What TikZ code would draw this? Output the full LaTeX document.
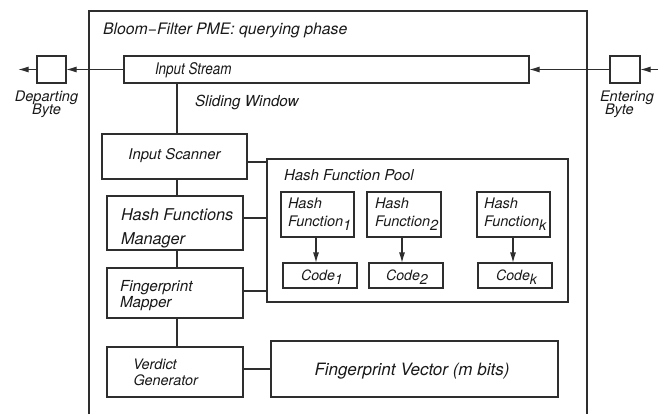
\documentclass[tikz,border=0pt]{standalone}
\usepackage{fontspec}
\setmainfont{TeX Gyre Heros}
\usetikzlibrary{arrows.meta,fit}
\newcommand\fsz[1]{\fontsize{#1}{#1}\selectfont\itshape}
\newcommand\lsub[1]{\raisebox{-3.2pt}{#1}}
\begin{document}
\begin{tikzpicture}[x=0.75pt,y=-0.75pt,
  ln/.style={draw=black!82, line width=1pt},
  box/.style={ln, inner sep=0pt, outer sep=0pt, rectangle},
  arr/.style={ln, -{Latex[length=8pt,width=4.6pt]}},
  txt/.style={inner sep=0pt, outer sep=0pt, anchor=base west, text=black!90},
  ctxt/.style={txt, anchor=base},
]
\useasboundingbox (0,0) rectangle (667,414);
% outer frame (open at the bottom)
\coordinate (fbl) at (89,414);
\coordinate (ftl) at (89,11);
\coordinate (ftr) at (587,11);
\coordinate (fbr) at (587,414);
\draw[ln] (fbl) -- (ftl) -- (ftr) -- (fbr);
\node[txt, font=\fsz{11.85pt}] (title) at (103,34) {Bloom−Filter PME: querying phase};

% stream and bytes
\node[box, fit={(124,56) (529,83)}] (stream) {};
\node[box, fit={(37,56) (66,83)}] (dep) {};
\node[box, fit={(610,56) (640,83)}] (ent) {};
\node[txt, font=\fsz{12pt}] (tstream) at (155,74.5) {\scalebox{0.84}[1]{Input Stream}};
\node[txt, font=\fsz{11.4pt}] (tslide) at (195,106) {Sliding Window};
\node[ctxt, font=\fsz{10.9pt}] (tdep1) at (46.5,101) {Departing};
\node[ctxt, font=\fsz{10.9pt}] (tdep2) at (46.5,114) {Byte};
\node[txt, font=\fsz{10.9pt}] (tent1) at (600,101) {Entering};
\node[txt, font=\fsz{10.9pt}] (tent2) at (605,114) {Byte};
\coordinate (depout) at (18,69.5);
\coordinate (entin) at (658,69.5);
\draw[arr] (stream.west) -- (dep.east);
\draw[arr] (dep.west) -- (depout);
\draw[arr] (entin) -- (ent.east);
\draw[arr] (ent.west) -- (stream.east);

% left column
\node[box, fit={(102,134) (247,179)}] (scan) {};
\node[box, fit={(107,196) (243,250)}] (hfm) {};
\node[box, fit={(107,268) (243,318)}] (fm) {};
\node[box, fit={(107,347) (243,397)}] (vg) {};
\node[ctxt, font=\fsz{11.1pt}] (tscan) at (174.5,159) {Input Scanner};
\node[txt, font=\fsz{12.2pt}] (thfm1) at (121,220) {Hash Functions};
\node[txt, font=\fsz{12.2pt}] (thfm2) at (121,244) {Manager};
\node[txt, font=\fsz{11.4pt}] (tfm1) at (120,291) {Fingerprint};
\node[txt, font=\fsz{11.4pt}] (tfm2) at (120,307.5) {Mapper};
\node[txt, font=\fsz{10.8pt}] (tvg1) at (133,369) {Verdict};
\node[txt, font=\fsz{10.8pt}] (tvg2) at (133.5,385) {Generator};
\coordinate (spine) at (177,0);
\draw[ln] (stream.south -| spine) -- (scan.north -| spine);
\draw[ln] (scan.south -| spine) -- (hfm.north -| spine);
\draw[ln] (hfm.south -| spine) -- (fm.north -| spine);
\draw[ln] (fm.south -| spine) -- (vg.north -| spine);

% fingerprint vector
\node[box, fit={(271,341) (558,397)}] (fv) {};
\node[ctxt, font=\fsz{12.75pt}] (tfv) at (412,375) {Fingerprint Vector (m bits)};
\coordinate (vgy) at (0,369);
\draw[ln] (vg.east |- vgy) -- (fv.west |- vgy);

% hash function pool
\node[box, fit={(267,159) (568,302)}] (pool) {};
\node[txt, font=\fsz{11.25pt}] (tpool) at (284,180) {Hash Function Pool};
\coordinate (c1) at (0,162);
\coordinate (c2) at (0,218);
\coordinate (c3) at (0,291);
\draw[ln] (scan.east |- c1) -- (pool.west |- c1);
\draw[ln] (hfm.east |- c2) -- (pool.west |- c2);
\draw[ln] (fm.east |- c3) -- (pool.west |- c3);

\node[box, fit={(281,192) (354,237)}] (hf1) {};
\node[box, fit={(367,192) (441,237)}] (hf2) {};
\node[box, fit={(477,192) (550,237)}] (hfk) {};
\node[box, fit={(283,263) (357,288)}] (code1) {};
\node[box, fit={(369,263) (443,288)}] (code2) {};
\node[box, fit={(478,263) (552,288)}] (codek) {};
\node[txt, font=\fsz{10.9pt}] (thf1a) at (288,208) {Hash};
\node[txt, font=\fsz{10.9pt}] (thf1b) at (288,226) {Function\lsub{1}};
\node[txt, font=\fsz{10.9pt}] (thf2a) at (375,208) {Hash};
\node[txt, font=\fsz{10.9pt}] (thf2b) at (375,226) {Function\lsub{2}};
\node[txt, font=\fsz{10.9pt}] (thfka) at (484,208) {Hash};
\node[txt, font=\fsz{10.9pt}] (thfkb) at (484,226) {Function\lsub{k}};
\node[txt, font=\fsz{10.65pt}] (tc1) at (301,280) {Code\lsub{1}};
\node[txt, font=\fsz{10.65pt}] (tc2) at (386,280) {Code\lsub{2}};
\node[txt, font=\fsz{10.65pt}] (tck) at (496,280) {Code\lsub{k}};
\coordinate (ax1) at (316,0);
\coordinate (ax2) at (402,0);
\coordinate (axk) at (513,0);
\draw[arr] (hf1.south -| ax1) -- (code1.north -| ax1);
\draw[arr] (hf2.south -| ax2) -- (code2.north -| ax2);
\draw[arr] (hfk.south -| axk) -- (codek.north -| axk);
\end{tikzpicture}
\end{document}
